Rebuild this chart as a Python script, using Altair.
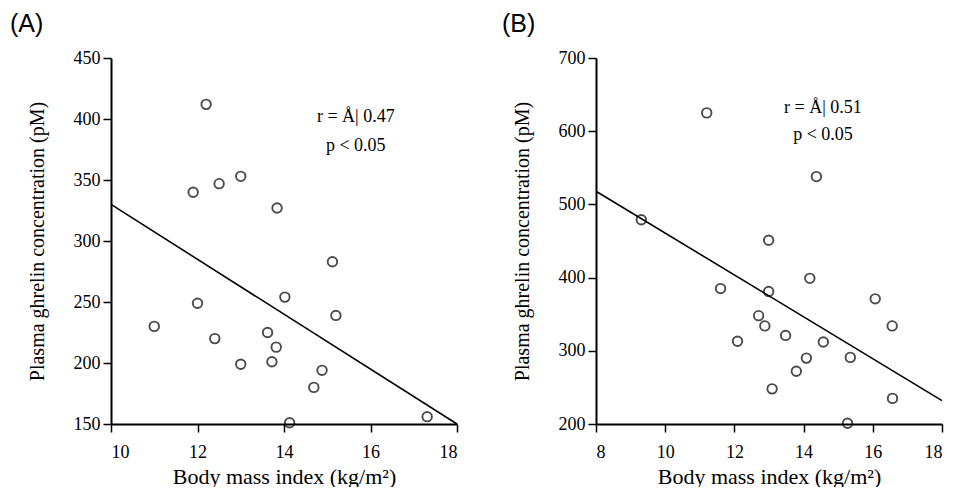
import altair as alt
import pandas as pd

# Panel A data
bmi_a = [12.2, 11.9, 12.5, 13.0, 13.84, 15.12, 14.02, 12.0, 11.0, 15.2,
         13.62, 12.4, 13.82, 13.0, 13.72, 14.88, 14.69, 14.13, 17.31]
ghrelin_a = [412, 340, 347, 353, 327, 283, 254, 249, 230, 239,
             225, 220, 213, 199, 201, 194, 180, 151, 156]
fit_a_x = [10, 18]
fit_a_y = [330, 150]

# Panel B data
bmi_b = [11.2, 14.37, 9.31, 12.99, 14.18, 11.6, 12.99, 16.07, 12.7, 12.88,
         16.56, 13.48, 12.09, 14.57, 15.35, 14.08, 13.79, 13.09, 16.57, 15.27]
ghrelin_b = [625, 538, 479, 451, 399, 385, 381, 371, 348, 334,
             334, 321, 313, 312, 291, 290, 272, 248, 235, 201]
fit_b_x = [8, 18]
fit_b_y = [518, 232]

SERIF = "Liberation Serif"


def panel(letter, bx, gy, fx, fy, xdom, xticks, ydom, yticks, ann_x, ann_y, r_text,
          title_dx):
    pts = pd.DataFrame({"bmi": bx, "ghrelin": gy})
    fit = pd.DataFrame({"bmi": fx, "ghrelin": fy})
    ann = pd.DataFrame({"bmi": [ann_x, ann_x], "ghrelin": ann_y,
                        "label": [r_text, "p < 0.05"]})
    xs = alt.Scale(domain=xdom, nice=False, zero=False)
    ys = alt.Scale(domain=ydom, nice=False, zero=False)
    xenc = alt.X("bmi:Q", scale=xs,
                 axis=alt.Axis(values=xticks, title="Body mass index (kg/m²)",
                               labelPadding=11, titlePadding=5, titleFontSize=22))
    yenc = alt.Y("ghrelin:Q", scale=ys,
                 axis=alt.Axis(values=yticks, title="Plasma ghrelin concentration (pM)",
                               labelPadding=3, titlePadding=26, titleFontSize=20))
    points = alt.Chart(pts).mark_point(
        shape="circle", filled=False, color="black", size=90, strokeWidth=1.9
    ).encode(x=xenc, y=yenc)
    line = alt.Chart(fit).mark_line(color="black", strokeWidth=1.6).encode(
        x="bmi:Q", y="ghrelin:Q")
    text = alt.Chart(ann).mark_text(font=SERIF, fontSize=18, color="black").encode(
        x="bmi:Q", y="ghrelin:Q", text="label:N")
    return alt.layer(line, points, text).properties(
        width=346, height=366,
        title=alt.TitleParams(letter, anchor="start", frame="group",
                              font="Liberation Sans",
                              fontSize=25, fontWeight="normal", color="black",
                              dx=title_dx, offset=12),
    )


chart_a = panel("(A)", bmi_a, ghrelin_a, fit_a_x, fit_a_y, [10, 18],
                [10, 12, 14, 16, 18], [150, 450], [150, 200, 250, 300, 350, 400, 450],
                15.66, [402, 378], "r = Å| 0.47", -101)
chart_b = panel("(B)", bmi_b, ghrelin_b, fit_b_x, fit_b_y, [8, 18],
                [8, 10, 12, 14, 16, 18], [200, 700], [200, 300, 400, 500, 600, 700],
                14.56, [632, 595], "r = Å| 0.51", -94)

chart = alt.hconcat(
    chart_a, chart_b, spacing=41,
    padding={"top": 4, "left": 2, "right": 0, "bottom": 0},
).configure_view(
    stroke=None
).configure_axis(
    grid=False,
    domainColor="black", domainWidth=2,
    tickColor="black", tickWidth=1.5, tickSize=8,
    labelFont=SERIF, labelFontSize=18, labelColor="black",
    titleFont=SERIF, titleFontWeight="normal", titleColor="black",
)

chart.save("out.html", embed_options={"renderer": "svg", "actions": False})
